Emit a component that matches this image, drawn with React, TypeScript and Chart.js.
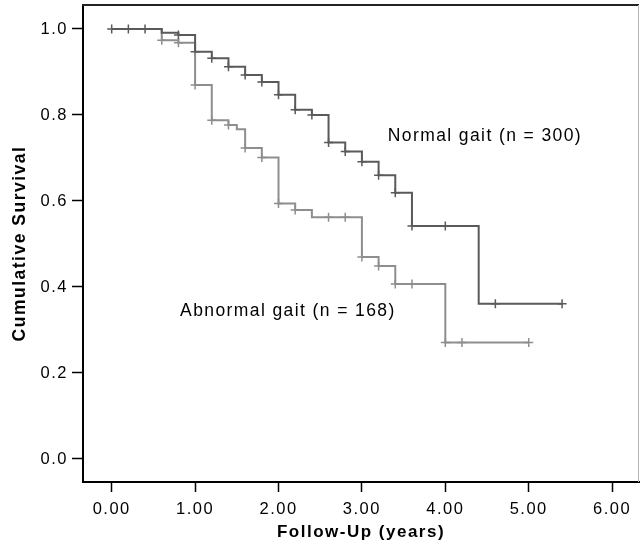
import React, { useEffect, useRef } from "react";
import { Chart, registerables } from "chart.js";

Chart.register(...registerables);

// ---- Data ----
const xTickValues = [0, 1, 2, 3, 4, 5, 6];
const yTickValues = [0, 0.2, 0.4, 0.6, 0.8, 1.0];

const normalLabel = "Normal gait (n = 300)";
const abnormalLabel = "Abnormal gait (n = 168)";

const normalTimes = [0, 0.6, 0.8, 1.0, 1.2, 1.4, 1.6, 1.8, 2.0, 2.2, 2.4, 2.6, 2.8, 3.0, 3.2, 3.4, 3.6, 4.4, 5.4];
const normalSurvival = [1.0, 0.991, 0.986, 0.947, 0.932, 0.912, 0.893, 0.877, 0.847, 0.812, 0.8, 0.736, 0.715, 0.691, 0.66, 0.619, 0.542, 0.361, 0.361];
const normalCensorTimes = [0, 0.2, 0.4, 0.8, 1.0, 1.2, 1.4, 1.6, 1.8, 2.0, 2.2, 2.4, 2.6, 2.8, 3.0, 3.2, 3.4, 3.6, 4.0, 4.6, 5.4];
const normalCensorSurvival = [1, 1, 1, 0.986, 0.947, 0.932, 0.912, 0.893, 0.877, 0.847, 0.812, 0.8, 0.736, 0.715, 0.691, 0.66, 0.619, 0.542, 0.542, 0.361, 0.361];

const abnormalTimes = [0, 0.6, 0.8, 1.0, 1.2, 1.4, 1.5, 1.6, 1.8, 2.0, 2.2, 2.4, 3.0, 3.2, 3.4, 4.0, 5.0];
const abnormalSurvival = [1.0, 0.974, 0.968, 0.87, 0.788, 0.777, 0.767, 0.723, 0.701, 0.594, 0.579, 0.562, 0.47, 0.449, 0.407, 0.271, 0.271];
const abnormalCensorTimes = [0.6, 0.8, 1.0, 1.2, 1.4, 1.6, 1.8, 2.0, 2.2, 2.6, 2.8, 3.0, 3.2, 3.4, 3.6, 4.0, 4.2, 5.0];
const abnormalCensorSurvival = [0.974, 0.968, 0.87, 0.788, 0.777, 0.723, 0.701, 0.594, 0.579, 0.562, 0.562, 0.47, 0.449, 0.407, 0.407, 0.271, 0.271, 0.271];

// label anchor positions (data coordinates)
const normalLabelPos = [3.31, 0.75];
const abnormalLabelPos = [0.82, 0.343];

const NORMAL_COLOR = "#5a5a5a";
const ABNORMAL_COLOR = "#8e8e8e";
const FONT = "'Liberation Sans', Arial, Helvetica, sans-serif";

const pts = (xs: number[], ys: number[]) => xs.map((x, i) => ({ x, y: ys[i] }));

export default function App() {
  const ref = useRef<HTMLCanvasElement>(null);

  useEffect(() => {
    const canvas = ref.current;
    if (!canvas) return;

    const spacing = {
      id: "spacing",
      beforeUpdate(c: any) { c.ctx.letterSpacing = "1.5px"; },
      beforeLayout(c: any) { c.ctx.letterSpacing = "1.5px"; },
      beforeDraw(c: any) { c.ctx.letterSpacing = "1.5px"; },
    };

    const frame = {
      id: "frame",
      afterDraw(c: any) {
        const { ctx, chartArea } = c;
        const { left, right, top, bottom } = chartArea;
        ctx.save();
        ctx.strokeStyle = "#222";
        ctx.lineWidth = 2;
        ctx.beginPath();
        ctx.moveTo(left - 1, top);
        ctx.lineTo(right, top);
        ctx.stroke();
        ctx.strokeStyle = "#b5b5b5";
        ctx.lineWidth = 1;
        ctx.beginPath();
        ctx.moveTo(right - 0.5, top);
        ctx.lineTo(right - 0.5, bottom);
        ctx.stroke();
        ctx.restore();
      },
    };

    const labels = {
      id: "labels",
      afterDatasetsDraw(c: any) {
        const { ctx, scales } = c;
        ctx.save();
        ctx.letterSpacing = "1.4px";
        ctx.font = `17.5px ${FONT}`;
        ctx.fillStyle = "#000";
        ctx.textAlign = "left";
        ctx.textBaseline = "middle";
        ctx.fillText(normalLabel, scales.x.getPixelForValue(normalLabelPos[0]), scales.y.getPixelForValue(normalLabelPos[1]));
        ctx.fillText(abnormalLabel, scales.x.getPixelForValue(abnormalLabelPos[0]), scales.y.getPixelForValue(abnormalLabelPos[1]));
        ctx.restore();
      },
    };

    const chart = new Chart(canvas, {
      type: "line",
      data: {
        datasets: [
          {
            data: pts(normalTimes, normalSurvival),
            borderColor: NORMAL_COLOR,
            borderWidth: 2,
            stepped: "before",
            pointRadius: 0,
            fill: false,
          },
          {
            data: pts(abnormalTimes, abnormalSurvival),
            borderColor: ABNORMAL_COLOR,
            borderWidth: 2,
            stepped: "before",
            pointRadius: 0,
            fill: false,
          },
          {
            data: pts(normalCensorTimes, normalCensorSurvival),
            showLine: false,
            pointStyle: "cross",
            pointRadius: 4.5,
            pointBorderWidth: 1.5,
            borderColor: NORMAL_COLOR,
            pointBorderColor: NORMAL_COLOR,
          },
          {
            data: pts(abnormalCensorTimes, abnormalCensorSurvival),
            showLine: false,
            pointStyle: "cross",
            pointRadius: 4.5,
            pointBorderWidth: 1.5,
            borderColor: ABNORMAL_COLOR,
            pointBorderColor: ABNORMAL_COLOR,
          },
        ] as any,
      },
      options: {
        responsive: false,
        animation: false,
        devicePixelRatio: 1,
        layout: { autoPadding: false, padding: { top: 5, right: 1, left: 0, bottom: 0 } },
        plugins: { legend: { display: false }, tooltip: { enabled: false } },
        scales: {
          x: {
            type: "linear",
            min: -0.344,
            max: 6.322,
            afterFit(scale: any) {
              scale.height = 71;
              scale.paddingLeft = 0;
              scale.paddingRight = 0;
            },
            afterBuildTicks(scale: any) { scale.ticks = xTickValues.map((v) => ({ value: v })); },
            ticks: {
              callback: (v: any) => Number(v).toFixed(2),
              font: { family: FONT, size: 16.5 },
              color: "#000",
              padding: 8,
              maxRotation: 0,
              autoSkip: false,
            },
            grid: { drawOnChartArea: false, drawTicks: true, tickLength: 10, tickColor: "#000", tickWidth: 1.5 },
            border: { display: true, color: "#000", width: 2 },
            title: {
              display: true,
              text: "Follow-Up (years)",
              color: "#000",
              font: { family: FONT, size: 17, weight: "bold", lineHeight: 1.2 },
              padding: { top: 0, bottom: 10 },
            },
          },
          y: {
            type: "linear",
            min: -0.0535,
            max: 1.0558,
            afterFit(scale: any) {
              scale.width = 83;
              scale.paddingTop = 0;
              scale.paddingBottom = 0;
            },
            afterBuildTicks(scale: any) { scale.ticks = yTickValues.map((v) => ({ value: v })); },
            ticks: {
              callback: (v: any) => Number(v).toFixed(1),
              font: { family: FONT, size: 16.5 },
              color: "#000",
              padding: 4,
              autoSkip: false,
            },
            grid: { drawOnChartArea: false, drawTicks: true, tickLength: 11, tickColor: "#000", tickWidth: 1.5 },
            border: { display: true, color: "#000", width: 2 },
            title: {
              display: true,
              text: "Cumulative Survival",
              color: "#000",
              font: { family: FONT, size: 17.5, weight: "bold", lineHeight: 1.2 },
              padding: { top: 10, bottom: 0 },
            },
          },
        },
      } as any,
      plugins: [spacing, frame, labels],
    });

    return () => chart.destroy();
  }, []);

  return (
    <div style={{ position: "absolute", left: 0, top: 0, width: 640, height: 553, background: "#fff" }}>
      <canvas ref={ref} width={640} height={553} style={{ display: "block" }} />
    </div>
  );
}
